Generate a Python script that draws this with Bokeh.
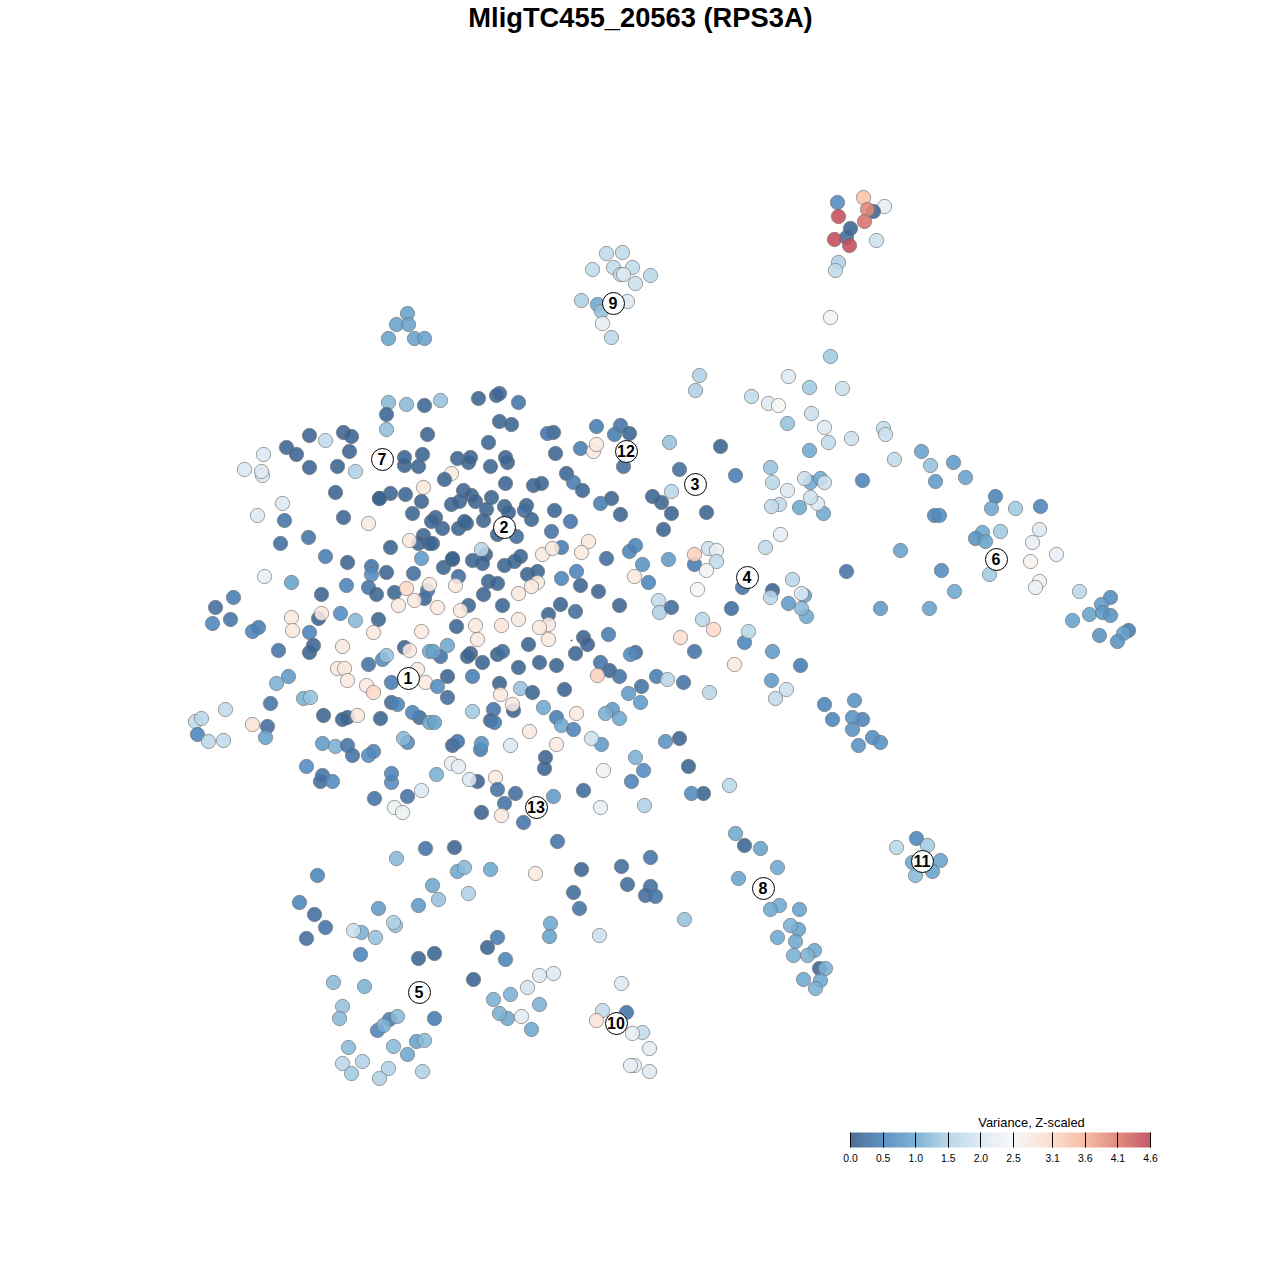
from bokeh.plotting import figure
from bokeh.embed import file_html
from bokeh.resources import INLINE
from bokeh.models import ColumnDataSource, LinearColorMapper, ColorBar, FixedTicker, Range1d, NumeralTickFormatter
from bokeh.core.properties import value

title_text = "MligTC455_20563 (RPS3A)"
legend_title = "Variance, Z-scaled"
scale_ticks = [0.0, 0.5, 1.0, 1.5, 2.0, 2.5, 3.1, 3.6, 4.1, 4.6]

top_left = [(388,402,1.2),(406,404,1.2),(424,405,.1),(386,414,.1),(386,429,1.25),(343,432,.1),(351,436,.1),(309,435,.1),(325,440,1.7),(286,447,.1),(296,454,.1),(349,451,.1),(263,454,2.0),(309,467,.1),(337,466,.1),(355,471,1.5),(244,469,2.0),(262,475,2.0),(261,471,2.0),(404,465,.1),(404,457,.1),(422,454,.1),(418,466,.1),(427,434,.1),(335,492,.1),(390,493,.1),(379,498,.0),(379,498,.1),(405,494,.1),(423,487,2.8),(421,501,.1),(412,513,.1),(343,517,.1),(368,523,2.8),(282,503,2.0),(257,515,2.0),(284,520,.3),(308,537,.3),(280,543,.2),(390,547,.1),(423,535,.1),(418,543,.1),(429,543,.1),(409,540,2.8),(325,556,.4),(347,562,.1),(371,566,.3),(371,574,.6),(386,572,.1),(421,558,.8),(413,573,.2),(264,576,2.2),(291,582,.9),(346,585,.5),(368,587,.3),(376,594,.1),(394,592,.1),(406,588,3.1),(424,598,.1),(427,590,.3),(414,600,2.8),(398,605,2.8),(429,584,2.8),(233,597,.4),(215,607,.2),(321,594,.1)]

mid_left = [(212,623,.5),(230,619,.3),(258,627,.4),(252,631,.5),(291,617,2.8),(292,630,2.8),(318,618,.1),(321,613,2.8),(340,613,.6),(355,620,1.2),(378,619,.1),(309,632,.5),(373,632,2.8),(342,646,2.8),(421,631,2.8),(278,650,.3),(309,652,.1),(313,645,.1),(404,647,.1),(409,650,2.8),(429,651,1.0),(368,664,.3),(382,659,.6),(386,655,1.3),(337,668,2.8),(344,668,2.8),(417,669,2.8),(347,680,2.8),(391,682,.4),(425,682,2.8),(366,685,2.8),(373,692,3.1),(288,676,.8),(276,683,1.1),(303,698,1.1),(310,697,1.3),(270,703,.3),(391,702,.2),(397,704,.5),(419,717,.2),(412,712,.5),(429,722,1.0),(323,715,.1),(347,717,.1),(342,719,.1),(357,715,2.8),(380,718,.1),(225,709,1.7),(195,721,1.7),(201,718,1.6),(197,734,.5),(208,741,1.6),(223,740,1.7),(252,724,2.9),(267,726,.2),(265,737,.9),(322,743,.8),(335,746,1.1),(352,755,.3),(347,745,.3),(373,751,.5),(368,755,.6),(407,742,.6),(403,738,1.2),(306,766,.6),(320,781,.2),(322,775,.3),(332,781,.6),(391,782,.6),(391,773,.5),(374,798,.3),(407,796,.3),(421,790,2.0),(394,807,2.3),(402,812,2.3)]

center_top = [(440,400,1.3),(478,398,.1),(496,395,.1),(499,393,.15),(518,402,.3),(499,421,.1),(511,424,.1),(488,442,.1),(553,432,.1),(547,433,.3),(596,426,.4),(620,425,.3),(629,433,.1),(614,434,.4),(580,448,.4),(593,451,2.8),(596,444,2.8),(555,453,.1),(623,466,.2),(457,458,.1),(468,462,.1),(470,457,.1),(490,466,.1),(507,462,.1),(505,457,.1),(451,473,2.8),(444,479,.1),(505,483,.1),(533,485,.1),(541,483,.1),(566,473,.1),(573,482,.4),(582,490,.1),(463,490,.1),(471,495,.1),(451,504,.1),(459,501,.1),(475,501,.1),(491,497,.1),(486,509,.1),(504,506,.1),(508,512,.1),(526,505,.1),(524,510,.2),(531,519,.1),(554,510,.1),(570,521,.3),(611,498,.1),(600,503,.4),(620,514,.1),(652,496,.1),(661,502,.1),(671,513,.1),(663,529,.1),(435,517,.1),(431,521,.1),(442,528,.1),(458,528,.1),(466,523,.1),(464,521,.1),(483,520,.1),(497,534,.1),(516,536,.2),(551,531,.3),(432,543,.1),(561,547,.4),(485,554,.1),(481,549,1.6),(482,563,.1),(472,560,.1),(452,559,.0),(452,558,.1),(443,567,.1),(504,565,.1),(514,561,.1),(520,556,.1),(542,554,2.8),(552,548,2.8),(588,541,2.8),(581,552,2.8),(606,558,.2),(629,551,.5),(635,545,.5),(642,564,.7),(576,571,.5),(561,578,.5),(527,574,.1),(537,571,.1),(537,582,2.8),(531,586,2.8),(518,593,2.8),(458,576,.2),(455,585,2.8),(488,581,.1),(497,583,.1),(483,594,.1),(580,585,.1),(598,591,.1),(634,576,2.8),(648,582,.5),(658,600,1.7),(659,612,1.5),(671,607,.2),(619,605,.1),(575,611,.2),(560,604,.1),(548,614,.1),(502,605,.1),(468,605,.1),(437,607,2.8),(460,610,2.8)]

center_low = [(456,626,.1),(475,625,2.8),(501,625,2.9),(518,619,2.8),(548,624,2.8),(539,627,2.8),(477,639,2.8),(548,639,2.8),(528,644,.1),(583,637,.1),(587,644,.1),(608,634,.4),(575,653,.1),(470,653,.1),(467,656,.1),(482,662,.1),(497,654,.1),(502,651,.2),(635,652,.2),(630,654,.6),(440,656,.3),(447,645,1.0),(433,651,.9),(518,667,.1),(539,662,.1),(556,665,.1),(609,670,.1),(600,662,.3),(619,676,.3),(597,675,3.2),(656,676,.4),(641,686,.3),(628,693,.8),(640,702,.8),(447,676,.1),(472,676,.4),(437,686,.6),(447,697,.2),(499,683,.1),(500,694,2.8),(520,688,1.3),(532,692,.1),(564,689,.1),(513,710,.1),(512,704,2.8),(472,711,1.4),(543,707,1.0),(493,709,.3),(490,720,.1),(494,722,.4),(434,722,.9),(556,717,.4),(561,725,1.0),(573,729,.5),(576,713,2.8),(612,709,.8),(605,713,1.1),(619,718,1.0),(529,731,2.8),(556,744,2.8),(510,745,2.0),(601,744,.8),(591,738,1.8),(452,745,.1),(457,741,.3),(480,749,.4),(481,743,.7),(545,757,.1),(544,768,.1),(451,763,2.2),(458,766,2.2),(436,774,1.1),(635,757,1.1),(643,770,.6),(631,781,.5),(603,770,2.4),(477,781,.1),(469,779,2.0),(495,777,2.8),(497,789,.3),(515,793,.2),(553,796,.8),(583,790,.2),(504,803,.3),(481,812,.1),(501,815,2.8),(523,822,.3),(600,807,2.2),(644,805,1.5)]

right_mid = [(830,356,1.4),(699,375,1.5),(695,390,1.5),(788,376,2.0),(809,387,1.4),(842,388,1.8),(751,396,1.7),(768,403,2.0),(778,405,2.5),(811,413,1.8),(787,423,1.3),(824,427,2.0),(828,442,1.7),(851,438,1.8),(883,428,1.7),(885,434,1.8),(809,450,1.0),(894,459,1.7),(669,442,1.3),(720,446,.1),(679,469,.2),(735,475,.4),(770,467,1.3),(772,482,1.6),(787,490,2.0),(810,482,1.0),(820,478,1.0),(804,478,1.8),(824,482,1.8),(862,480,.5),(671,491,1.6),(706,512,.1),(823,513,1.0),(799,507,1.0),(817,503,2.0),(810,497,1.8),(779,504,1.7),(771,506,1.7),(780,534,2.2),(765,547,1.7),(668,559,.8),(708,548,1.8),(716,550,2.2),(694,564,.4),(694,554,3.2),(716,561,1.7),(706,570,2.4),(697,589,2.5),(846,571,.3),(900,550,.9),(792,579,1.6),(742,587,.3),(772,590,.1),(770,597,1.6),(804,595,.9),(801,593,2.0),(788,603,.8),(806,616,1.0),(801,608,1.2),(880,608,.8),(731,608,.2),(702,619,1.6),(713,629,3.1),(680,637,3.0),(744,642,.5),(748,631,1.6),(694,651,.3),(772,651,.8),(800,665,.4),(734,664,2.8),(667,679,1.6),(683,682,.3),(771,680,.8),(786,689,1.8),(775,698,1.7),(709,692,1.6),(824,704,.5),(854,700,.7),(832,719,.5),(862,719,.5),(852,717,.7),(852,729,.7),(872,737,.6),(880,742,.7),(858,745,.7),(679,738,.1),(665,741,.7),(688,766,.1),(729,785,1.6),(703,793,.1),(691,793,.6)]

bottom_left = [(396,858,1.2),(425,848,.3),(454,847,.1),(317,875,.5),(457,871,1.0),(464,867,1.2),(490,869,1.0),(432,885,1.0),(468,893,1.5),(438,899,1.3),(418,905,.8),(299,902,.5),(314,914,.2),(378,908,.8),(325,927,.3),(306,938,.2),(361,932,1.1),(353,930,1.8),(375,937,1.3),(395,925,1.3),(393,922,1.5),(497,937,.4),(487,947,.1),(360,954,.5),(434,953,.1),(418,958,.1),(505,959,.5),(333,982,1.2),(364,986,1.1),(473,979,.1),(342,1006,1.3),(339,1018,1.2),(434,1018,.4),(389,1019,.4),(397,1016,1.2),(377,1030,.5),(383,1025,1.1),(348,1047,1.2),(393,1046,1.2),(416,1041,.9),(424,1040,1.2),(407,1054,1.0),(342,1063,1.6),(362,1061,1.5),(351,1073,1.4),(388,1068,1.5),(379,1078,1.5),(422,1071,1.5)]

bottom_mid = [(557,841,.3),(535,873,2.8),(581,869,.1),(621,866,.2),(650,857,.3),(573,892,.2),(627,884,.2),(650,886,.2),(645,895,.2),(655,896,.3),(579,908,.3),(684,919,1.3),(550,923,1.0),(549,936,.9),(599,935,1.8),(539,975,2.0),(553,973,2.0),(527,987,1.9),(621,983,2.0),(510,994,1.1),(493,999,1.1),(539,1004,1.1),(507,1018,1.0),(499,1013,1.1),(521,1016,2.1),(531,1029,1.0),(602,1010,1.7),(626,1012,.3),(596,1020,2.9),(642,1032,1.7),(632,1033,2.2),(649,1048,2.1),(634,1065,2.2),(630,1065,2.2),(649,1071,2.0)]

top_group = [(837,202,.6),(863,197,3.4),(884,206,2.2),(873,211,.1),(867,209,4.0),(838,216,4.5),(864,221,4.2),(846,237,.2),(850,228,.1),(834,239,4.5),(849,245,4.5),(876,240,1.8),(838,262,1.5),(835,270,1.7),(830,317,2.4)]

cluster_nine = [(606,253,1.7),(622,252,1.7),(592,269,1.7),(613,267,1.7),(632,267,1.7),(650,275,1.6),(620,274,1.7),(623,274,2.0),(635,283,1.8),(581,300,1.5),(627,301,2.0),(597,304,1.0),(601,311,1.3),(602,323,2.2),(611,337,1.6),(407,313,.9),(396,324,.9),(408,324,.9),(388,338,.9),(414,338,.9),(424,338,.9)]

far_right = [(921,451,.9),(953,462,.8),(930,465,1.3),(935,481,.8),(965,477,.9),(995,496,.5),(1040,506,.5),(1015,508,1.4),(934,515,.5),(939,515,.6),(991,508,1.0),(1000,531,1.4),(982,532,1.0),(975,538,.7),(985,541,.9),(1039,529,2.0),(1032,542,2.2),(1056,554,2.2),(1030,561,2.6),(989,574,1.4),(941,570,.6),(954,591,1.0),(929,608,.9),(1039,581,2.3),(1035,587,2.3),(1079,591,1.6),(1110,597,.6),(1101,604,.8),(1089,614,.9),(1102,612,.8),(1110,615,.7),(1072,620,.9),(1099,635,.7),(1128,630,.4),(1123,633,.9),(1117,641,.7)]

cluster_eight_eleven = [(916,838,.5),(927,845,1.4),(896,847,1.6),(912,862,1.0),(925,862,1.0),(940,860,.9),(932,871,.9),(915,875,1.2),(735,833,1.0),(744,845,.1),(760,848,.9),(777,867,1.0),(738,878,.9),(779,905,1.0),(770,909,1.0),(799,909,.9),(798,929,.9),(790,925,1.1),(777,937,1.0),(795,941,1.0),(814,950,1.0),(793,955,1.1),(807,955,1.1),(819,968,.1),(825,968,1.1),(803,979,1.0),(820,980,1.0),(815,988,1.1)]

cluster_labels = ["1","2","3","4","5","6","7","8","9","10","11","12","13"]
cluster_x = [408,504,695,747,419,996,382,763,613,616,922,626,536]
cluster_y = [678,527,484,577,992,559,459,888,303,1023,861,451,807]

# Colour ramp as seen on the reference legend (displayed over white)
ramp_seen = ["#4f7097","#6093c3","#7fb3d5","#b9d8e8","#e1ebf4","#f7f7f7","#fddfcf","#f6bda5","#e08d80","#c65b6b"]
ALPHA = 0.88

def unblend(h):
    c = [int(h[i:i+2], 16) for i in (1, 3, 5)]
    return [max(0, min(255, (v - 255 * (1 - ALPHA)) / ALPHA)) for v in c]

def build_palette(n=256):
    pts = [unblend(c) for c in ramp_seen]
    top = scale_ticks[-1]
    out = []
    for i in range(n):
        t = top * i / (n - 1)
        k = 0
        while k < len(scale_ticks) - 2 and t > scale_ticks[k + 1]:
            k += 1
        f = (t - scale_ticks[k]) / (scale_ticks[k + 1] - scale_ticks[k])
        rgb = [round(a + (b - a) * f) for a, b in zip(pts[k], pts[k + 1])]
        out.append("#%02x%02x%02x" % tuple(rgb))
    return out

points = top_left + mid_left + center_top + center_low + right_mid + bottom_left + bottom_mid + top_group + cluster_nine + far_right + cluster_eight_eleven
src = ColumnDataSource(dict(x=[q[0] for q in points], y=[q[1] for q in points], v=[q[2] for q in points]))

mapper = LinearColorMapper(palette=build_palette(), low=0, high=4.6)

p = figure(width=1264, height=1264, output_backend="svg", toolbar_location=None,
           x_range=Range1d(0, 1264), y_range=Range1d(1264, 0), min_border=0,
           outline_line_color=None, background_fill_color="white")
p.xaxis.visible = False
p.yaxis.visible = False
p.grid.visible = False

p.scatter("x", "y", source=src, size=14.3, marker="circle",
          fill_color={"field": "v", "transform": mapper}, fill_alpha=ALPHA,
          line_color="#6e6e6e", line_alpha=0.65, line_width=1)

p.scatter([571], [640], size=1, marker="circle", color="#2a5381")

label_src = ColumnDataSource(dict(x=cluster_x, y=cluster_y, t=cluster_labels))
p.scatter("x", "y", source=label_src, size=22, marker="circle",
          fill_color="white", fill_alpha=0.95, line_color="black", line_width=1)
p.text("x", "y", text="t", source=label_src, text_align="center", text_baseline="middle",
       y_offset=-0.5, x_offset=-0.5,
       text_font=value("Liberation Sans"), text_font_style="bold", text_font_size="16px", text_color="black")

p.text([640], [17], text=[title_text], text_align="center", text_baseline="middle",
       text_font=value("Liberation Sans"), text_font_style="bold", text_font_size="27.3px", text_color="black")
p.text([1031], [1122], text=[legend_title], text_align="center", text_baseline="middle",
       text_font=value("Liberation Sans"), text_font_size="12.9px", text_color="black")

bar = ColorBar(color_mapper=mapper, orientation="horizontal", width=300, height=15,
               location=(850, 100), padding=0, margin=0,
               ticker=FixedTicker(ticks=scale_ticks), formatter=NumeralTickFormatter(format="0.0"),
               major_tick_in=15, major_tick_out=0,
               major_tick_line_color="black", major_tick_line_width=1, minor_tick_line_color=None,
               bar_line_color=None, border_line_color=None, background_fill_alpha=0,
               scale_alpha=ALPHA, major_label_text_font="Liberation Sans",
               major_label_text_font_size="10.4px", major_label_text_color="black",
               label_standoff=6)
p.add_layout(bar, "center")

open("out.html", "w").write(file_html(p, INLINE))
